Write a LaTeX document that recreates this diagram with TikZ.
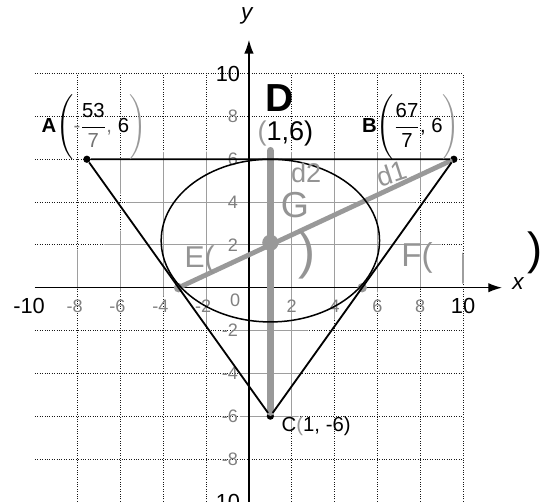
\documentclass[tikz,border=0pt]{standalone}
\usepackage{amsmath}
\usepackage{fontspec}
\setmainfont{Liberation Sans}
\usepackage{tikz}
\usetikzlibrary{arrows.meta,positioning}

\begin{document}
\begin{tikzpicture}[x=0.5cm,y=0.5cm,>=Latex]
\tikzset{darkgrid/.style={black!90,densely dotted,line width=0.6pt},
  lightgrid/.style={black!38,line width=0.7pt},
  axis/.style={->,black,line width=0.9pt,>={Latex[length=3.2mm,width=2.2mm]}},
  tick/.style={black!50,inner sep=0pt,font=\fontsize{12}{14}\selectfont},
  endtick/.style={black,inner sep=0pt,font=\fontsize{14.5}{16}\selectfont},
  pt/.style={circle,fill=black,inner sep=0pt,minimum size=1.7mm},
  ptlabel/.style={inner sep=0pt,font=\fontsize{13.5}{15}\selectfont},
  pencil/.style={black!40},
  hand/.style={black!42,inner sep=0pt}}
\clip (-11.63,-10) rectangle (14.11,13.44);
\draw[darkgrid] (-10,-10) grid (10,10);
\begin{scope}
\clip plot[smooth cycle,tension=.5] coordinates {(-10,0.2) (-10,1.5) (-6.8,2) (-5.6,3.5) (-6.5,5.5) (-4.5,6.3) (4,6.3) (9.2,6.2) (8,4.5) (7.6,3) (9,2) (10,1.6) (10,0.2) (5.5,-0.3) (4.5,-1.3) (2.5,-2.3) (2.2,-6.4) (-0.3,-6.4) (-0.5,-2.3) (-2.5,-1.6) (-4,-0.4)};
\fill[white] (-10,-10) rectangle (10,10);
\draw[lightgrid] (-10,-10) grid (10,10);
\end{scope}
\draw[axis] (-10,0) -- (11.82,0);
\draw[axis] (0,-10.5) -- (0,11.58);
\node[font=\fontsize{15}{17}\selectfont\itshape,inner sep=0pt] (xlbl) at (12.57,0.19) {x};
\node[font=\fontsize{15}{17}\selectfont\itshape,inner sep=0pt] (ylbl) at (-0.1,12.7) {y};
\foreach \k in {2,4,6,8}{
  \node[tick] at (\k,-0.85) {\k};
  \node[tick] at (-\k,-0.85) {\llap{-}\k};
  \node[tick,anchor=east] at (-0.5,\k) {\k};
  \node[tick,anchor=east] at (-0.5,-\k) {-\k};}
\node[tick] (zero) at (-0.65,-0.6) {0};
\node[endtick] (xmin) at (-10.1,-0.85) {\llap{-}10};
\node[endtick] (xmax) at (10,-0.85) {10};
\node[endtick,anchor=east] (ymax) at (-0.4,10) {10};
\node[endtick,anchor=east] (ymin) at (-0.4,-10) {-10};
\coordinate (e) at (-3.29,0);
\coordinate (f) at (5.29,0);
\coordinate (g) at (1,2.1);
\coordinate (d) at (1,6.4);
\node[pt] (a) at (-53/7,6) {};
\node[pt] (b) at (67/7,6) {};
\node[pt] (c) at (1,-6) {};
\draw[pencil,line width=5pt,line cap=round] (d) -- (c);
\draw[pencil,line width=3.2pt,line cap=round] (e) -- (b);
\fill[pencil] (g) circle (0.38);
\fill[pencil] (e) circle (0.22);
\fill[pencil] (f) circle (0.22);
\draw[line width=1.2pt] (a) -- (b) -- (c) -- (a);
\draw[line width=1pt] (1,2.2) ellipse [x radius=5.1,y radius=3.8];
\node[ptlabel] (lbla) at (-7.24,7.5) {\textbf{A}$\Bigg(\textcolor{black!50}{\text{-}}\dfrac{\text{53}}{\textcolor{black!55}{\text{7}}}\textcolor{black!50}{\text{,}}\ \text{6}\textcolor{black!40}{\Bigg)}$};
\node[ptlabel] (lblb) at (7.57,7.5) {\textbf{B}$\Bigg(\dfrac{\text{67}}{\text{7}}\text{, 6}\textcolor{black!40}{\Bigg)}$};
\node[ptlabel] (lblc) at (3.14,-6.47) {C\textcolor{black!40}{(}1, -6)};
\node[font=\fontsize{26}{28}\selectfont\bfseries,inner sep=0pt] (hdd) at (1.45,8.84) {D};
\node[font=\fontsize{18}{20}\selectfont,inner sep=0pt] (hdpt) at (1.7,7.2) {\textcolor{black!40}{(}1,6)};
\node[hand,font=\fontsize{24}{26}\selectfont] (hdg) at (2.15,3.86) {G};
\node[hand,font=\fontsize{18}{20}\selectfont] (hdde) at (2.67,5.35) {d2};
\node[hand,rotate=18,font=\fontsize{18}{20}\selectfont] (hddi) at (6.67,5.35) {d1};
\node[hand,font=\fontsize{20}{22}\selectfont] (hde) at (-2.3,1.3) {E(};
\node[hand,font=\fontsize{22}{24}\selectfont] (hdf) at (7.85,1.4) {F(};
\node[hand,font=\fontsize{34}{36}\selectfont] (hdr) at (2.7,1.5) {)};
\node[font=\fontsize{30}{32}\selectfont,inner sep=0pt] (hdbig) at (13.36,1.63) {)};
\end{tikzpicture}
\end{document}
